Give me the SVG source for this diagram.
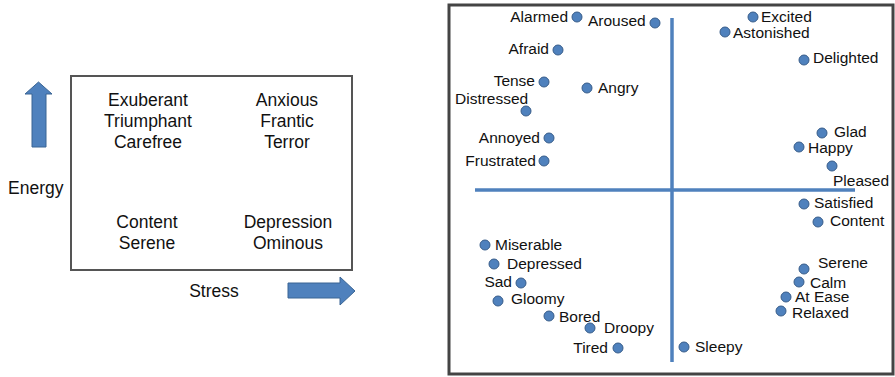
<svg xmlns="http://www.w3.org/2000/svg" width="895" height="377" viewBox="0 0 895 377">
<style>
.t{font-family:"Liberation Sans",Arial,sans-serif;fill:#111}
.l{font-size:17.5px;text-anchor:middle}
.r{font-size:15.5px}
.e{text-anchor:end}
.dot{fill:#4f81bd;stroke:#385d8a;stroke-width:1}
.arr{fill:#4f81bd;stroke:#3a6594;stroke-width:1}
.ax{stroke:#4f81bd;stroke-width:3.5;fill:none}
</style>
<rect width="895" height="377" fill="#fff"/>
<g id="left-chart">
<rect x="71" y="76" width="281" height="194" fill="#fff" stroke="#555" stroke-width="2"/>
<polygon class="arr" points="38.5,82 52,94 46,94 46,147 32,147 32,94 25,94"/>
<polygon class="arr" points="288,283 340,283 340,277 355,291 340,305 340,298 288,298"/>
<text class="t" x="8" y="194" font-size="17.5px">Energy</text>
<text class="t" x="214" y="297" font-size="17.5px" text-anchor="middle">Stress</text>
<text class="t l" x="148" y="106">Exuberant</text>
<text class="t l" x="148" y="127">Triumphant</text>
<text class="t l" x="148" y="148">Carefree</text>
<text class="t l" x="287" y="106">Anxious</text>
<text class="t l" x="287" y="127">Frantic</text>
<text class="t l" x="287" y="148">Terror</text>
<text class="t l" x="147" y="228">Content</text>
<text class="t l" x="147" y="249">Serene</text>
<text class="t l" x="288" y="228">Depression</text>
<text class="t l" x="288" y="249">Ominous</text>
</g>
<g id="right-chart">
<rect x="449" y="5" width="444" height="369" fill="#fff" stroke="#444" stroke-width="3"/>
</g>
<g id="axes">
<line class="ax" x1="672" y1="18" x2="672" y2="362"/>
<line class="ax" x1="475" y1="190" x2="855" y2="190"/>
</g>
<g id="points">
<g id="alarmed"><circle class="dot" cx="577" cy="17" r="5"/><text class="t r e" x="568" y="22">Alarmed</text></g>
<g id="aroused"><circle class="dot" cx="655" cy="23" r="5"/><text class="t r" x="588" y="26">Aroused</text></g>
<g id="afraid"><circle class="dot" cx="558" cy="50" r="5"/><text class="t r e" x="549" y="54">Afraid</text></g>
<g id="tense"><circle class="dot" cx="544" cy="82" r="5"/><text class="t r e" x="535" y="86">Tense</text></g>
<g id="distressed"><circle class="dot" cx="526" cy="111" r="5"/><text class="t r" x="455" y="104">Distressed</text></g>
<g id="angry"><circle class="dot" cx="587" cy="88" r="5"/><text class="t r" x="598" y="93">Angry</text></g>
<g id="annoyed"><circle class="dot" cx="549" cy="138" r="5"/><text class="t r e" x="540" y="143">Annoyed</text></g>
<g id="frustrated"><circle class="dot" cx="544" cy="161" r="5"/><text class="t r e" x="536" y="166">Frustrated</text></g>
<g id="excited"><circle class="dot" cx="753" cy="17" r="5"/><text class="t r" x="761" y="22">Excited</text></g>
<g id="astonished"><circle class="dot" cx="725" cy="32" r="5"/><text class="t r" x="733" y="38">Astonished</text></g>
<g id="delighted"><circle class="dot" cx="804" cy="60" r="5"/><text class="t r" x="813" y="63">Delighted</text></g>
<g id="glad"><circle class="dot" cx="822" cy="133" r="5"/><text class="t r" x="834" y="137">Glad</text></g>
<g id="happy"><circle class="dot" cx="799" cy="147" r="5"/><text class="t r" x="808" y="153">Happy</text></g>
<g id="pleased"><circle class="dot" cx="832" cy="166" r="5"/><text class="t r" x="833" y="186">Pleased</text></g>
<g id="satisfied"><circle class="dot" cx="804" cy="204" r="5"/><text class="t r" x="814" y="208">Satisfied</text></g>
<g id="content"><circle class="dot" cx="818" cy="222" r="5"/><text class="t r" x="830" y="226">Content</text></g>
<g id="serene"><circle class="dot" cx="804" cy="269" r="5"/><text class="t r" x="818" y="268">Serene</text></g>
<g id="calm"><circle class="dot" cx="799" cy="282" r="5"/><text class="t r" x="810" y="288">Calm</text></g>
<g id="atease"><circle class="dot" cx="786" cy="297" r="5"/><text class="t r" x="795" y="302">At Ease</text></g>
<g id="relaxed"><circle class="dot" cx="781" cy="311" r="5"/><text class="t r" x="792" y="318">Relaxed</text></g>
<g id="sleepy"><circle class="dot" cx="684" cy="347" r="5"/><text class="t r" x="695" y="352">Sleepy</text></g>
<g id="miserable"><circle class="dot" cx="485" cy="245" r="5"/><text class="t r" x="495" y="250">Miserable</text></g>
<g id="depressed"><circle class="dot" cx="494" cy="264" r="5"/><text class="t r" x="507" y="269">Depressed</text></g>
<g id="sad"><circle class="dot" cx="521" cy="283" r="5"/><text class="t r e" x="512" y="287">Sad</text></g>
<g id="gloomy"><circle class="dot" cx="498" cy="301" r="5"/><text class="t r" x="511" y="304">Gloomy</text></g>
<g id="bored"><circle class="dot" cx="549" cy="316" r="5"/><text class="t r" x="559" y="322">Bored</text></g>
<g id="droopy"><circle class="dot" cx="590" cy="328" r="5"/><text class="t r" x="604" y="333">Droopy</text></g>
<g id="tired"><circle class="dot" cx="618" cy="348" r="5"/><text class="t r e" x="608" y="353">Tired</text></g>
</g>
</svg>
